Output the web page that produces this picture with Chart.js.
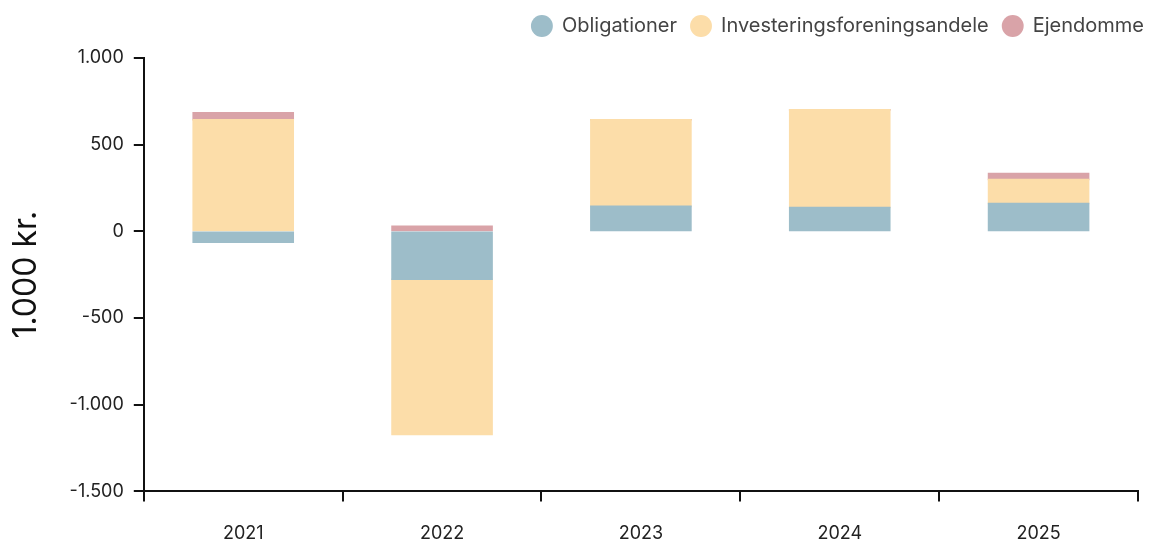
<!DOCTYPE html>
<html>
<head>
<meta charset="utf-8">
<script src="https://cdn.jsdelivr.net/npm/chart.js@4"></script>
<style>
  html, body { margin: 0; padding: 0; background: #fff; }
  #wrap { width: 1150px; height: 543px; position: relative; }
</style>
</head>
<body>
<div id="wrap"><canvas id="c"></canvas></div>
<script>
const categories = ['2021', '2022', '2023', '2024', '2025'];
const obligationer = [-63, -276, 144, 138, 161];
const investeringsforeningsandele = [644, -895, 500, 563, 138];
const ejendomme = [40, 29, 0, 0, 34];
const seriesNames = ['Obligationer', 'Investeringsforeningsandele', 'Ejendomme'];
const yTicks = [-1500, -1000, -500, 0, 500, 1000];
const yTitle = '1.000 kr.';

function fmt(v) {
  const s = Math.abs(v).toString().replace(/\B(?=(\d{3})+(?!\d))/g, '.');
  return (v < 0 ? '-' : '') + s;
}

const FONT = 'Inter, "DejaVu Sans", sans-serif';

const legendMargin = {
  id: 'legendMargin',
  beforeInit(chart) {
    const orig = chart.legend.fit;
    chart.legend.fit = function () {
      orig.call(this);
      this.height += 12;
    };
  }
};

new Chart(document.getElementById('c'), {
  type: 'bar',
  data: {
    labels: categories,
    datasets: [
      { label: seriesNames[0], data: obligationer, backgroundColor: '#9DBDC9' },
      { label: seriesNames[1], data: investeringsforeningsandele, backgroundColor: '#FCDDA9' },
      { label: seriesNames[2], data: ejendomme, backgroundColor: '#D9A3A8' }
    ]
  },
  plugins: [legendMargin],
  options: {
    responsive: true,
    maintainAspectRatio: false,
    animation: false,
    layout: { padding: { left: 7, right: -8, top: 2, bottom: -22 } },
    datasets: { bar: { categoryPercentage: 1, barPercentage: 0.503, borderWidth: 0, inflateAmount: 0.8 } },
    plugins: {
      tooltip: { enabled: false },
      legend: {
        position: 'top',
        align: 'end',
        labels: {
          usePointStyle: true,
          pointStyle: 'circle',
          boxWidth: 20,
          boxHeight: 15.5,
          padding: 14,
          color: '#444',
          font: { family: FONT, size: 20 }
        }
      }
    },
    scales: {
      x: {
        stacked: true,
        grid: { display: true, drawOnChartArea: false, drawTicks: true, tickLength: 10, color: '#111', lineWidth: 2, offset: true },
        border: { display: true, color: '#111', width: 2 },
        ticks: { color: '#222', padding: 21, font: { family: FONT, size: 18 } }
      },
      y: {
        stacked: true,
        min: -1500,
        max: 1000,
        afterBuildTicks: (axis) => { axis.ticks = yTicks.map(v => ({ value: v })); },
        grid: { display: true, drawOnChartArea: false, drawTicks: true, tickLength: 10, color: '#111', lineWidth: 2 },
        border: { display: true, color: '#111', width: 2 },
        ticks: { color: '#222', padding: 10, font: { family: FONT, size: 18 }, callback: (v) => fmt(v) },
        title: { display: true, text: yTitle, color: '#111', padding: { top: 0, bottom: 14 }, font: { family: FONT, size: 32 } }
      },
      yPad: {
        position: 'right',
        display: true,
        grid: { display: false, drawTicks: false },
        border: { display: false },
        ticks: { display: false },
        afterFit: (s) => { s.width = 20; }
      }
    }
  }
});
</script>
</body>
</html>
